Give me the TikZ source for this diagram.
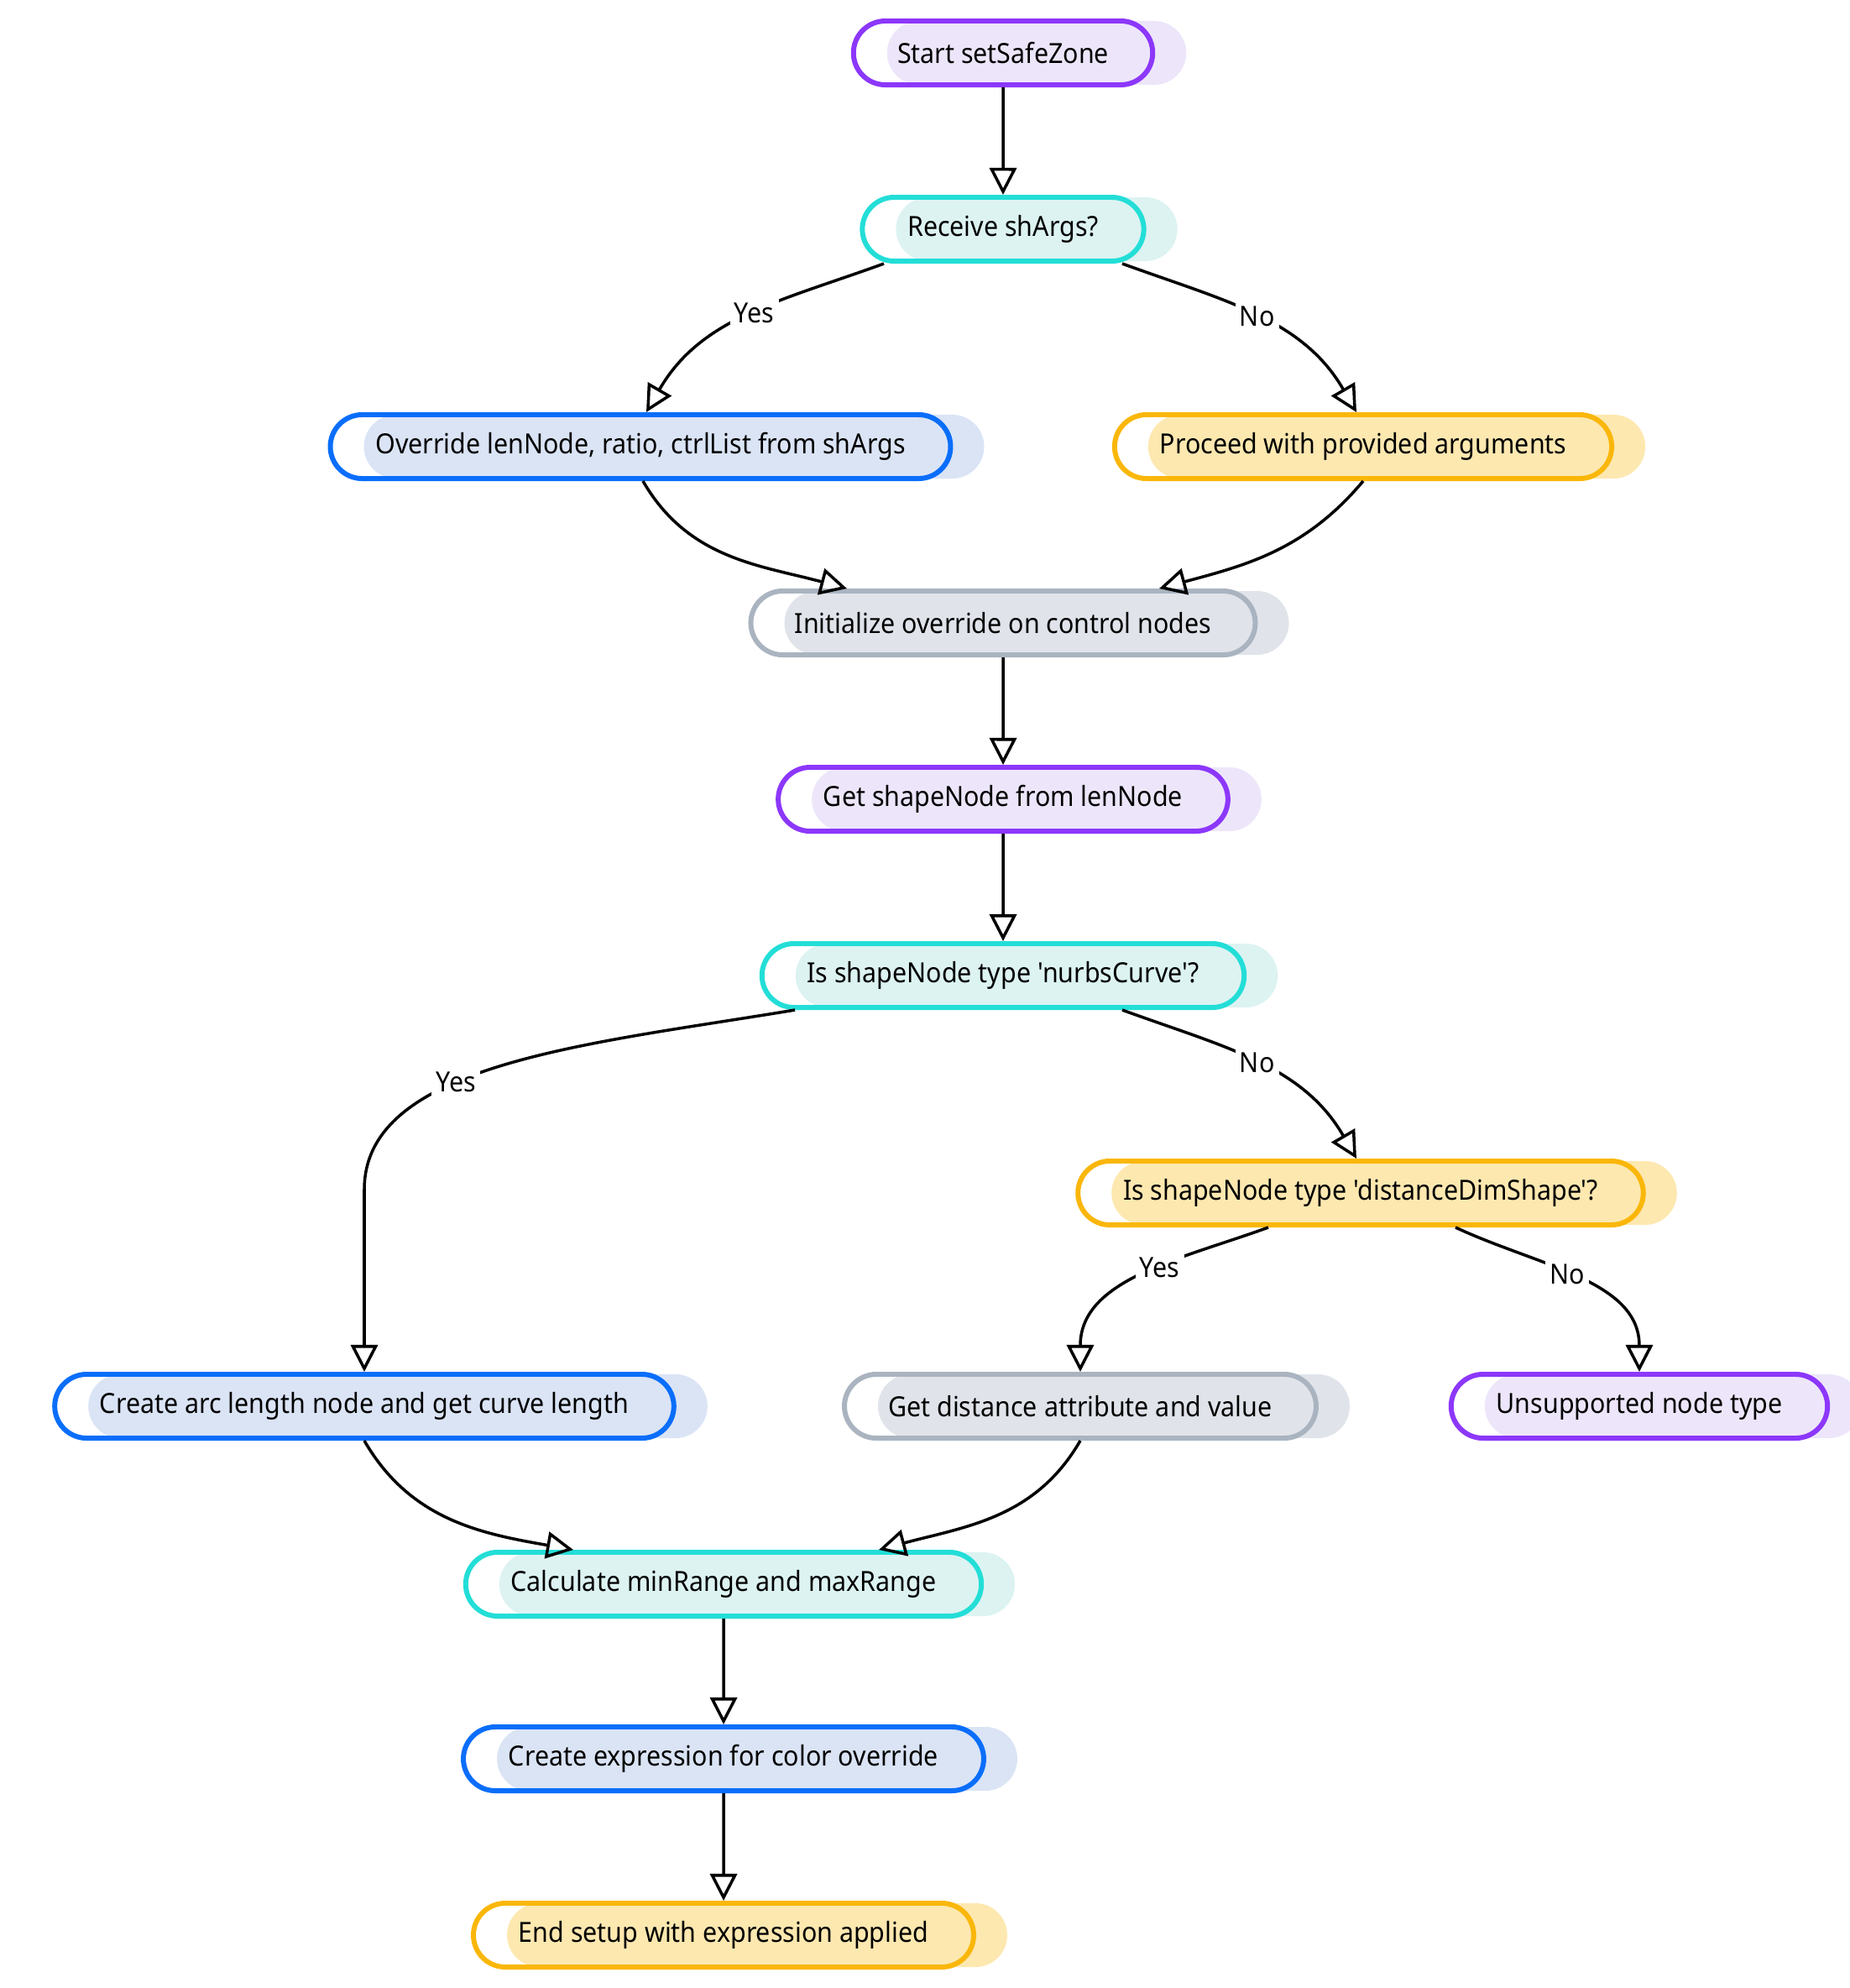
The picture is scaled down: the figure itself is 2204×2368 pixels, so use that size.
\documentclass[tikz,border=0pt]{standalone}
\usepackage{fontspec}
\setmainfont{Noto Sans}[FakeStretch=0.92,Ligatures=TeXOff]
\usepackage{tikz}
\usetikzlibrary{arrows.meta,calc,shapes.misc}
\definecolor{vio}{RGB}{140,55,250}
\definecolor{viofill}{RGB}{237,230,250}
\definecolor{cya}{RGB}{35,222,215}
\definecolor{cyafill}{RGB}{220,243,242}
\definecolor{blu}{RGB}{10,110,250}
\definecolor{blufill}{RGB}{218,228,245}
\definecolor{amb}{RGB}{250,183,10}
\definecolor{ambfill}{RGB}{253,232,176}
\definecolor{gra}{RGB}{170,180,192}
\definecolor{grafill}{RGB}{224,228,234}
\tikzset{
	box/.style 2 args={rounded rectangle, draw=#1, line width=1.7pt,
		preaction={fill=#2, transform canvas={xshift=0.4cm}},
		minimum height=0.76cm, inner xsep=0.5cm, font=\fontsize{9.4}{11}\selectfont},
	flow/.style={-{Triangle[open,length=0.32cm,width=0.32cm]}, line width=1pt},
	lbl/.style={fill=white, inner sep=1.5pt, font=\fontsize{9.4}{11}\selectfont}
}

\begin{document}
\begin{tikzpicture}[x=0.01cm,y=-0.01cm]
		\useasboundingbox (0,0) rectangle (2204,2368);
		\node[box={vio}{viofill}] (St) at (1195,63) {Start setSafeZone};
		\node[box={cya}{cyafill}] (Rc) at (1195,273) {Receive shArgs?};
		\node[box={blu}{blufill}] (Ov) at (763,532) {Override lenNode, ratio, ctrlList from shArgs};
		\node[box={amb}{ambfill}] (Pr) at (1624,532) {Proceed with provided arguments};
		\node[box={gra}{grafill}] (In) at (1195,742) {Initialize override on control nodes};
		\node[box={vio}{viofill}] (Gs) at (1195,952) {Get shapeNode from lenNode};
		\node[box={cya}{cyafill}] (Nc) at (1195,1162) {Is shapeNode type 'nurbsCurve'?};
		\node[box={amb}{ambfill}] (Dd) at (1621,1421) {Is shapeNode type 'distanceDimShape'?};
		\node[box={blu}{blufill}] (Ca) at (434,1675) {Create arc length node and get curve length};
		\node[box={gra}{grafill}] (Gd) at (1287,1675) {Get distance attribute and value};
		\node[box={vio}{viofill}] (Un) at (1953,1675) {Unsupported node type};
		\node[box={cya}{cyafill}] (Cl) at (862,1887) {Calculate minRange and maxRange};
		\node[box={blu}{blufill}] (Ce) at (862,2095) {Create expression for color override};
		\node[box={amb}{ambfill}] (En) at (862,2305) {End setup with expression applied};
		\draw[flow] (St) -- (Rc);
		\draw[flow] ($(Rc.south)+(-142,0)$) to[out=-160,in=60] node[lbl,pos=0.47] {Yes} ($(Ov.north)+(7,0)$);
		\draw[flow] ($(Rc.south)+(142,0)$) to[out=-20,in=120] node[lbl,pos=0.5] {No} ($(Pr.north)+(-8,0)$);
		\draw[flow] ($(Ov.south)+(3,0)$) to[out=-60,in=165] ($(In.north)+(-186,0)$);
		\draw[flow] (Pr.south) to[out=-130,in=15] ($(In.north)+(186,0)$);
		\draw[flow] (In) -- (Gs);
		\draw[flow] (Gs) -- (Nc);
		\draw[flow] ($(Nc.south)+(-248,0)$) .. controls ($(Nc.south)+(-495,41)$) and ($(Ca.north)+(0,-367)$) .. node[lbl,pos=0.6] {Yes} ($(Ca.north)+(0,-217)$) -- (Ca.north);
		\draw[flow] ($(Nc.south)+(142,0)$) to[out=-20,in=120] node[lbl,pos=0.5] {No} ($(Dd.north)+(-5,0)$);
		\draw[flow] ($(Dd.south)+(-110,0)$) to[out=-160,in=90] node[lbl,pos=0.42] {Yes} (Gd.north);
		\draw[flow] ($(Dd.south)+(113,0)$) to[out=-25,in=90] node[lbl,pos=0.45] {No} (Un.north);
		\draw[flow] (Ca.south) to[out=-60,in=170] ($(Cl.north)+(-179,0)$);
		\draw[flow] (Gd.south) to[out=-120,in=15] ($(Cl.north)+(185,0)$);
		\draw[flow] (Cl) -- (Ce);
		\draw[flow] (Ce) -- (En);
	\end{tikzpicture}
\end{document}
